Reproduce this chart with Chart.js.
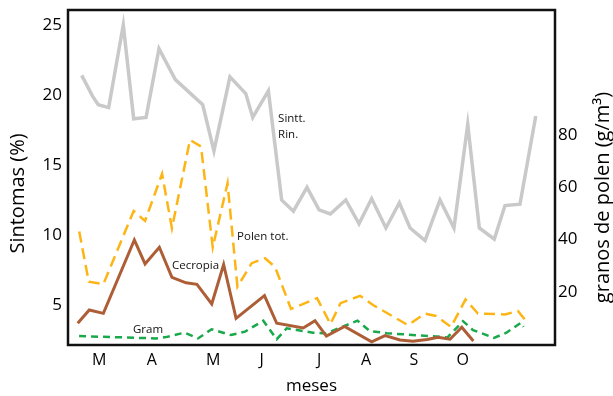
<!DOCTYPE html>
<html>
<head>
<meta charset="utf-8">
<script src="https://cdn.jsdelivr.net/npm/chart.js@4.4.1/dist/chart.umd.min.js"></script>
<style>
  html, body { margin: 0; padding: 0; background: #fff; }
</style>
</head>
<body>
<canvas id="grafico" width="613" height="396"></canvas>
<script>
// eje x en dias desde el inicio del periodo
const mesesPos = [18.4, 49.2, 85.4, 113.9, 147.7, 175.2, 203.4, 232.0];
const mesesLabels = ["M", "A", "M", "J", "J", "A", "S", "O"];

const sintomasTicks = [5, 10, 15, 20, 25];
const polenTicks = [20, 40, 60, 80];

// Sintomas rinitis (%), eje izquierdo
const rinX = [8.05, 14.5, 17.8, 23.9, 32.5, 38.6, 45.9, 53.5, 63.1, 79.2, 85.8, 95.2, 104.5, 108.6, 117.8,
  125.6, 132.5, 140.5, 147.6, 154.2, 163.3, 171.1, 178.5, 186.9, 194.8, 201.1, 209.9, 218.7, 226.9,
  235.0, 241.8, 250.6, 256.9, 265.7, 275.0];
const rinY = [21.4, 19.9, 19.3, 19.1, 25.0, 18.3, 18.4, 23.3, 21.1, 19.3, 16.0, 21.3, 20.1, 18.4, 20.3,
  12.5, 11.7, 13.4, 11.8, 11.5, 12.5, 10.8, 12.6, 10.5, 12.3, 10.5, 9.6, 12.5, 10.5,
  17.9, 10.5, 9.7, 12.1, 12.2, 18.5];

// Polen total (g/m3), eje derecho
const polenX = [6.6, 12.2, 20.8, 38.6, 45.3, 55.3, 61.1, 71.7, 78.2, 85.1, 93.8, 99.6, 108.0, 115.8, 121.7,
  131.1, 146.4, 154.3, 160.2, 171.7, 179.3, 199.9, 209.9, 216.3, 225.2, 233.7, 241.0, 256.9, 264.5, 268.7];
const polenY = [43.0, 23.8, 22.9, 50.9, 47.1, 65.1, 44.3, 78.1, 75.6, 37.0, 61.5, 21.9, 30.9, 32.8, 29.5,
  13.4, 17.5, 7.6, 15.6, 18.4, 14.9, 7.2, 11.6, 10.7, 6.5, 17.0, 11.6, 11.3, 12.6, 9.2];

// Cecropia
const cecropiaX = [5.7, 12.5, 20.8, 39.0, 45.3, 53.7, 61.1, 69.4, 75.8, 84.5, 91.5, 98.8, 115.5, 122.7,
  138.3, 145.2, 151.9, 162.6, 178.5, 186.4, 195.2, 202.8, 211.1, 217.5, 224.6, 231.5, 238.3];
const cecropiaY = [7.9, 13.0, 11.7, 39.8, 30.6, 37.0, 25.5, 23.4, 22.8, 15.3, 30.4, 9.8, 18.5, 7.9,
  6.1, 8.9, 3.0, 6.7, 0.8, 3.2, 1.5, 1.0, 1.7, 2.5, 1.8, 6.4, 1.1];

// Gramineas
const gramX = [6.5, 31.7, 51.7, 57.6, 68.5, 76.4, 84.4, 95.8, 104.1, 114.8, 122.7, 128.6, 144.0, 151.7,
  170.2, 177.5, 187.5, 223.1, 232.2, 238.1, 250.4, 257.5, 266.3, 267.8];
const gramY = [3.0, 2.5, 2.1, 2.6, 4.3, 2.1, 5.6, 3.4, 4.7, 8.9, 1.8, 6.0, 4.3, 4.0,
  8.9, 4.9, 4.1, 2.5, 8.7, 5.3, 2.3, 4.2, 8.1, 6.5];

const fuente = "'Open Sans', 'Noto Sans', sans-serif";

function puntos(xs, ys) {
  return xs.map((x, i) => ({ x: x, y: ys[i] }));
}

// etiquetas de cada serie, en unidades de los ejes
const etiquetas = [
  { text: "Sintt.", x: 123.5, y: 18.29, eje: "y" },
  { text: "Rin.", x: 123.5, y: 17.14, eje: "y" },
  { text: "Polen tot.", x: 99.4, y: 40.9, eje: "y1" },
  { text: "Cecropia", x: 61.1, y: 29.8, eje: "y1" },
  { text: "Gram", x: 38.2, y: 5.6, eje: "y1" }
];

const pluginMarco = {
  id: "marco",
  afterDatasetsDraw(chart) {
    const { ctx, chartArea, scales } = chart;
    ctx.save();
    ctx.font = "11.5px " + fuente;
    ctx.fillStyle = "#111";
    ctx.textAlign = "left";
    ctx.textBaseline = "middle";
    etiquetas.forEach(e => {
      ctx.fillText(e.text, scales.x.getPixelForValue(e.x), scales[e.eje].getPixelForValue(e.y));
    });

    ctx.strokeStyle = "#111";
    ctx.lineWidth = 2.5;
    ctx.strokeRect(chartArea.left, chartArea.top, chartArea.right - chartArea.left, chartArea.bottom - chartArea.top);

    // titulos de los ejes verticales (ambos leidos de abajo hacia arriba)
    const midY = (chartArea.top + chartArea.bottom) / 2;
    ctx.fillStyle = "#000";
    ctx.textAlign = "center";
    ctx.font = "20px " + fuente;
    ctx.save();
    ctx.translate(chartArea.left - 50, midY + 16);
    ctx.rotate(-Math.PI / 2);
    ctx.fillText("Sintomas (%)", 0, 0);
    ctx.restore();
    ctx.save();
    ctx.translate(chartArea.right + 48, midY + 20);
    ctx.rotate(-Math.PI / 2);
    ctx.fillText("granos de polen (g/m³)", 0, 0);
    ctx.restore();
    ctx.restore();
  }
};

function sinPadding(scale) {
  scale.paddingTop = 0;
  scale.paddingBottom = 0;
  scale.paddingLeft = 0;
  scale.paddingRight = 0;
}

new Chart(document.getElementById("grafico"), {
  type: "line",
  data: {
    datasets: [
      {
        label: "Sintt. Rin.",
        data: puntos(rinX, rinY),
        yAxisID: "y",
        borderColor: "#c9c9c9",
        borderWidth: 3.5
      },
      {
        label: "Polen tot.",
        data: puntos(polenX, polenY),
        yAxisID: "y1",
        borderColor: "#fdb515",
        borderWidth: 2.5,
        borderDash: [11, 6]
      },
      {
        label: "Cecropia",
        data: puntos(cecropiaX, cecropiaY),
        yAxisID: "y1",
        borderColor: "#ad5e36",
        borderWidth: 3
      },
      {
        label: "Gram",
        data: puntos(gramX, gramY),
        yAxisID: "y1",
        borderColor: "#19a84a",
        borderWidth: 2.5,
        borderDash: [7, 5]
      }
    ]
  },
  options: {
    responsive: false,
    animation: false,
    devicePixelRatio: 1,
    elements: {
      point: { radius: 0 },
      line: { tension: 0, fill: false }
    },
    layout: { padding: { top: 10, left: 0, right: 0, bottom: 0 } },
    plugins: {
      legend: { display: false },
      tooltip: { enabled: false }
    },
    scales: {
      x: {
        type: "linear",
        position: "bottom",
        min: 0,
        max: 286.3,
        grid: { display: false, drawTicks: false },
        border: { display: false },
        title: {
          display: true,
          text: "meses",
          color: "#000",
          font: { family: fuente, size: 17 },
          padding: { top: 0, bottom: 0 }
        },
        ticks: {
          autoSkip: false,
          maxRotation: 0,
          padding: 6,
          color: "#000",
          font: { family: fuente, size: 16 },
          callback: (value, index) => mesesLabels[index]
        },
        afterBuildTicks: scale => { scale.ticks = mesesPos.map(v => ({ value: v })); },
        afterFit: scale => { scale.height = 51; sinPadding(scale); }
      },
      y: {
        type: "linear",
        position: "left",
        min: 2.143,
        max: 26.07,
        grid: { display: false, drawTicks: false },
        border: { display: false },
        ticks: {
          padding: 6,
          color: "#000",
          font: { family: fuente, size: 17 }
        },
        afterBuildTicks: scale => { scale.ticks = sintomasTicks.map(v => ({ value: v })); },
        afterFit: scale => { scale.width = 68; sinPadding(scale); }
      },
      y1: {
        type: "linear",
        position: "right",
        min: -0.42,
        max: 127.85,
        grid: { display: false, drawTicks: false },
        border: { display: false },
        ticks: {
          padding: 3,
          color: "#000",
          font: { family: fuente, size: 17 }
        },
        afterBuildTicks: scale => { scale.ticks = polenTicks.map(v => ({ value: v })); },
        afterFit: scale => { scale.width = 58; sinPadding(scale); }
      }
    }
  },
  plugins: [pluginMarco]
});
</script>
</body>
</html>
